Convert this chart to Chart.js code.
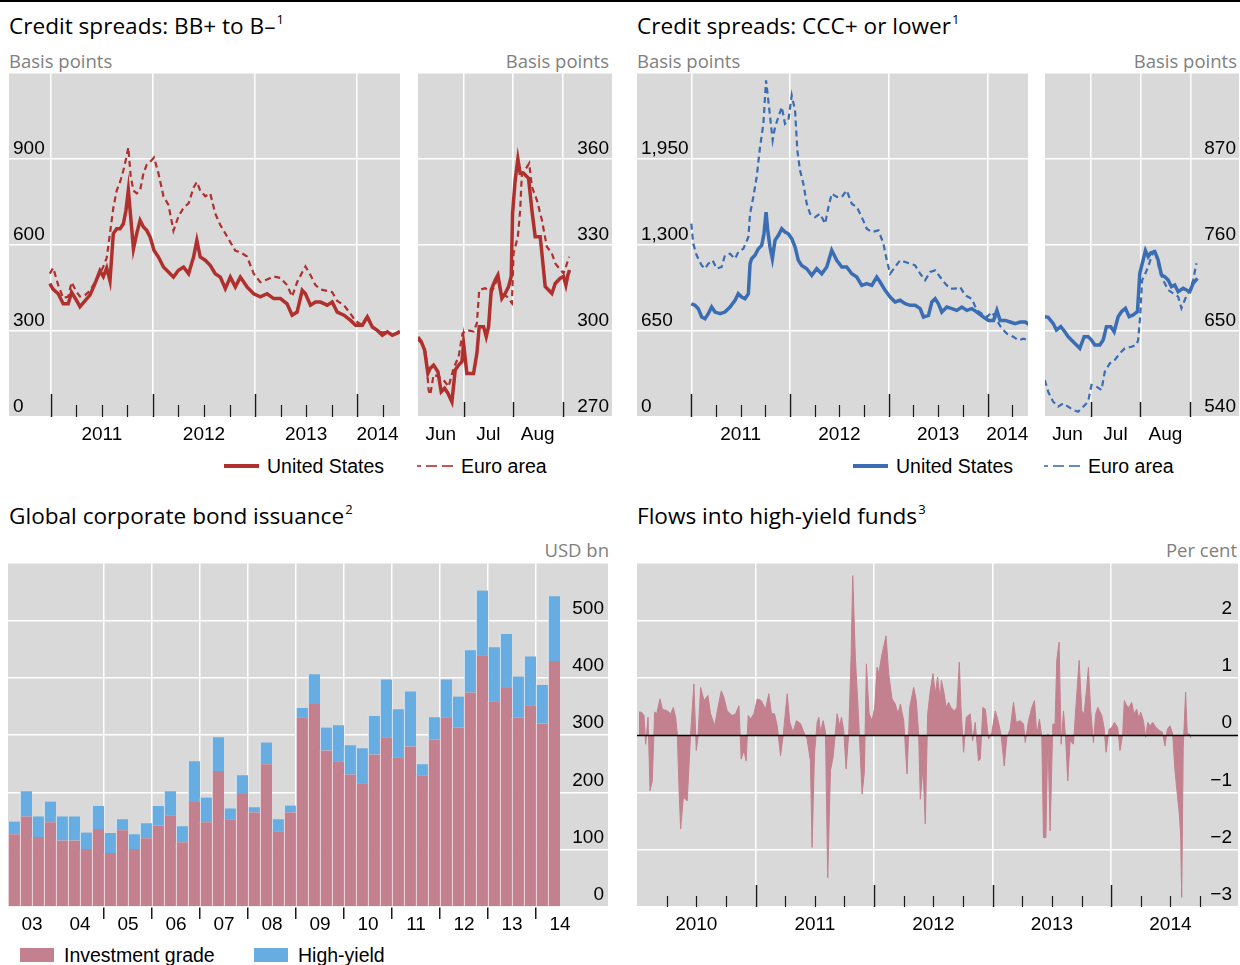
<!DOCTYPE html>
<html>
<head>
<meta charset="utf-8">
<script src="https://cdn.jsdelivr.net/npm/chart.js@4.4.1/dist/chart.umd.min.js"></script>
<style>
  body { margin: 0; width: 1240px; height: 965px; position: relative; background: #fff; overflow: hidden;
         font-family: "Liberation Sans", Arial, sans-serif; }
  .abs { position: absolute; white-space: nowrap; }
  canvas { position: absolute; }
  .title { font-family: "Open Sans", "Noto Sans", sans-serif; font-size: 22.6px; line-height: 26px; color: #000; }
  .sup { font-size: 13px; position: relative; top: -10px; margin-left: 1px; }
  .unit { font-family: "Open Sans", "Noto Sans", sans-serif; font-size: 18.5px; line-height: 20px; color: #808080; }
  .leg { font-size: 19.5px; line-height: 22px; color: #000; }
</style>
</head>
<body>
<div class="abs" style="left:0;top:0;width:1240px;height:2px;background:#000"></div>

<div class="abs title" style="left:9px;top:13px">Credit spreads: BB+ to B–<span class="sup">1</span></div>
<div class="abs unit" style="left:9px;top:51px">Basis points</div>
<div class="abs unit" style="right:631px;top:51px">Basis points</div>
<canvas id="bbChart" width="391" height="380" style="left:9px;top:73px"></canvas>
<canvas id="bbRecentChart" width="194" height="380" style="left:418px;top:73px"></canvas>

<div class="abs title" style="left:637px;top:13px">Credit spreads: CCC+ or lower<span class="sup">1</span></div>
<div class="abs unit" style="left:637px;top:51px">Basis points</div>
<div class="abs unit" style="right:3px;top:51px">Basis points</div>
<canvas id="cccChart" width="391" height="380" style="left:637px;top:73px"></canvas>
<canvas id="cccRecentChart" width="194" height="380" style="left:1045px;top:73px"></canvas>

<div class="abs" style="left:224px;top:464px;width:35px;height:4px;background:#b0302e"></div>
<div class="abs leg" style="left:267px;top:455px">United States</div>
<svg class="abs" style="left:417px;top:463px" width="36" height="6"><g stroke="#b0302e" stroke-width="1.6"><line x1="0" y1="3" x2="4" y2="3"/><line x1="9" y1="3" x2="20" y2="3"/><line x1="25" y1="3" x2="36" y2="3"/></g></svg>
<div class="abs leg" style="left:461px;top:455px">Euro area</div>

<div class="abs" style="left:853px;top:464px;width:35px;height:4px;background:#3a6db3"></div>
<div class="abs leg" style="left:896px;top:455px">United States</div>
<svg class="abs" style="left:1044px;top:463px" width="36" height="6"><g stroke="#3a6db3" stroke-width="1.6"><line x1="0" y1="3" x2="4" y2="3"/><line x1="9" y1="3" x2="20" y2="3"/><line x1="25" y1="3" x2="36" y2="3"/></g></svg>
<div class="abs leg" style="left:1088px;top:455px">Euro area</div>

<div class="abs title" style="left:9px;top:503px">Global corporate bond issuance<span class="sup">2</span></div>
<div class="abs unit" style="right:631px;top:540px">USD bn</div>
<canvas id="issueChart" width="600" height="380" style="left:8px;top:563px"></canvas>
<div class="abs" style="left:20px;top:948px;width:34px;height:14px;background:#c3808f"></div>
<div class="abs leg" style="left:64px;top:944px">Investment grade</div>
<div class="abs" style="left:254px;top:948px;width:34px;height:14px;background:#68ade1"></div>
<div class="abs leg" style="left:298px;top:944px">High-yield</div>

<div class="abs title" style="left:637px;top:503px">Flows into high-yield funds<span class="sup">3</span></div>
<div class="abs unit" style="right:3px;top:540px">Per cent</div>
<canvas id="flowChart" width="601" height="380" style="left:637px;top:563px"></canvas>

<script>
'use strict';

// BB+ to B- spreads, basis points (dates as fractional years)
let bbDates = [2010.990, 2011.023, 2011.072, 2011.121, 2011.170, 2011.203, 2011.246, 2011.285, 2011.334, 2011.383,
  2011.432, 2011.481, 2011.514, 2011.547, 2011.579, 2011.612, 2011.645, 2011.678, 2011.710, 2011.736,
  2011.759, 2011.782, 2011.809, 2011.841, 2011.874, 2011.907, 2011.939, 2011.972, 2012.011, 2012.054,
  2012.103, 2012.152, 2012.201, 2012.250, 2012.300, 2012.349, 2012.398, 2012.430, 2012.463, 2012.512,
  2012.561, 2012.610, 2012.660, 2012.709, 2012.758, 2012.807, 2012.856, 2012.921, 2012.987, 2013.052,
  2013.118, 2013.183, 2013.249, 2013.314, 2013.363, 2013.412, 2013.462, 2013.494, 2013.543, 2013.592,
  2013.642, 2013.707, 2013.756, 2013.805, 2013.871, 2013.936, 2013.985, 2014.051, 2014.100, 2014.149,
  2014.198, 2014.247, 2014.296, 2014.345, 2014.417];
let bbUS = [465, 445, 430, 395, 395, 435, 410, 385, 405, 425,
  465, 510, 490, 520, 475, 640, 657, 657, 674, 721,
  791, 698, 587, 640, 686, 663, 651, 628, 581, 558,
  523, 506, 488, 512, 523, 500, 558, 616, 558, 547,
  529, 500, 488, 448, 488, 454, 488, 454, 430, 419,
  430, 413, 413, 395, 355, 366, 442, 430, 390, 401,
  401, 390, 401, 366, 355, 337, 320, 320, 349, 314,
  302, 285, 297, 285, 297];
let bbEA = [500, 520, 460, 415, 420, 470, 440, 420, 425, 440,
  470, 500, 525, 555, 640, 730, 790, 820, 860, 900,
  940, 840, 790, 780, 790, 850, 880, 890, 905, 850,
  770, 740, 650, 700, 730, 745, 800, 820, 790, 770,
  780, 710, 670, 640, 610, 580, 575, 560, 500, 470,
  480, 490, 485, 460, 420, 470, 505, 525, 495, 460,
  445, 440, 435, 405, 390, 360, 335, 320, 355, 315,
  300, 295, 297, 285, 300];

// recent BB spreads, dates as month numbers (7 = 1 July 2014)
let bbRecentDatesUS = [6.078, 6.145, 6.213, 6.280, 6.327, 6.395, 6.482, 6.549, 6.617, 6.684,
  6.765, 6.832, 6.900, 6.967, 7.001, 7.068, 7.203, 7.270, 7.317, 7.405,
  7.459, 7.506, 7.560, 7.640, 7.694, 7.775, 7.842, 7.910, 7.964, 7.991,
  8.044, 8.098, 8.145, 8.213, 8.314, 8.381, 8.448, 8.549, 8.597, 8.650,
  8.718, 8.785, 8.853, 8.954, 9.021, 9.068, 9.108, 9.142];
let bbRecentUS = [297.9, 296.3, 293.4, 285.2, 287.0, 288.1, 285.8, 278.8, 280.0, 278.3,
  275.3, 286.4, 288.1, 289.3, 295.7, 285.2, 285.2, 292.2, 301.5, 301.5,
  298.0, 301.5, 314.3, 317.8, 319.5, 311.4, 313.1, 315.5, 319.0, 341.0,
  352.7, 360.0, 355.0, 355.0, 353.3, 342.2, 332.9, 332.9, 324.8, 315.5,
  314.3, 313.1, 316.6, 318.4, 319.0, 316.0, 319.5, 321.3];
let bbRecentDatesEA = [6.078, 6.159, 6.240, 6.294, 6.327, 6.395, 6.496, 6.597, 6.698, 6.799,
  6.900, 6.980, 7.068, 7.203, 7.270, 7.317, 7.438, 7.573, 7.674, 7.775,
  7.876, 7.977, 8.011, 8.098, 8.145, 8.179, 8.246, 8.327, 8.381, 8.482,
  8.583, 8.684, 8.785, 8.853, 8.933, 9.021, 9.068, 9.135];
let bbRecentEA = [296.9, 295.7, 292.2, 279.4, 277.7, 284.7, 284.1, 282.9, 280.6, 287.0,
  291.0, 299.2, 300.3, 299.8, 302.7, 314.3, 314.9, 313.7, 317.8, 313.1,
  312.0, 309.7, 327.1, 332.9, 342.2, 355.0, 356.2, 358.5, 350.3, 345.7,
  338.7, 329.4, 327.1, 323.6, 321.9, 320.1, 322.4, 325.9];

// CCC+ or lower spreads
let cccDatesUS = [2011.000, 2011.037, 2011.071, 2011.105, 2011.139, 2011.172, 2011.206, 2011.240, 2011.291, 2011.341,
  2011.392, 2011.443, 2011.476, 2011.510, 2011.544, 2011.578, 2011.595, 2011.611, 2011.645, 2011.679,
  2011.713, 2011.736, 2011.757, 2011.774, 2011.797, 2011.821, 2011.848, 2011.882, 2011.916, 2011.949,
  2011.983, 2012.017, 2012.051, 2012.084, 2012.118, 2012.169, 2012.220, 2012.270, 2012.321, 2012.372,
  2012.422, 2012.473, 2012.524, 2012.574, 2012.625, 2012.676, 2012.726, 2012.777, 2012.828, 2012.878,
  2012.912, 2012.963, 2013.014, 2013.064, 2013.115, 2013.166, 2013.216, 2013.267, 2013.318, 2013.351,
  2013.402, 2013.436, 2013.470, 2013.503, 2013.537, 2013.588, 2013.639, 2013.689, 2013.740, 2013.791,
  2013.841, 2013.892, 2013.959, 2014.010, 2014.061, 2014.095, 2014.128, 2014.179, 2014.230, 2014.280,
  2014.331, 2014.382, 2014.416];
let cccUS = [856, 844, 819, 756, 743, 781, 831, 793, 781, 793,
  831, 882, 932, 907, 894, 932, 1159, 1196, 1222, 1272,
  1297, 1385, 1549, 1411, 1285, 1196, 1335, 1373, 1423, 1398,
  1385, 1348, 1285, 1184, 1146, 1121, 1071, 1121, 1083, 1134,
  1260, 1184, 1134, 1134, 1083, 1058, 995, 1008, 995, 1058,
  1020, 957, 907, 869, 882, 856, 844, 844, 819, 756,
  768, 869, 894, 856, 793, 831, 819, 806, 831, 806,
  819, 793, 756, 730, 730, 806, 730, 730, 718, 705,
  718, 718, 700];
let cccDatesEA = [2011.000, 2011.020, 2011.054, 2011.105, 2011.139, 2011.172, 2011.216, 2011.257, 2011.307, 2011.341,
  2011.392, 2011.443, 2011.476, 2011.527, 2011.578, 2011.595, 2011.628, 2011.662, 2011.696, 2011.730,
  2011.757, 2011.791, 2011.824, 2011.848, 2011.882, 2011.916, 2011.949, 2011.983, 2012.017, 2012.051,
  2012.074, 2012.101, 2012.135, 2012.169, 2012.203, 2012.253, 2012.304, 2012.355, 2012.389, 2012.422,
  2012.473, 2012.524, 2012.574, 2012.625, 2012.676, 2012.726, 2012.777, 2012.828, 2012.895, 2012.946,
  2012.980, 2013.014, 2013.064, 2013.115, 2013.166, 2013.216, 2013.267, 2013.318, 2013.368, 2013.419,
  2013.470, 2013.520, 2013.571, 2013.622, 2013.672, 2013.723, 2013.774, 2013.841, 2013.892, 2013.943,
  2013.993, 2014.044, 2014.095, 2014.145, 2014.196, 2014.264, 2014.314, 2014.365, 2014.416];
let cccEA = [1461, 1310, 1222, 1146, 1121, 1159, 1184, 1121, 1134, 1222,
  1234, 1196, 1247, 1272, 1360, 1536, 1663, 1814, 2040, 2217,
  2544, 2317, 2091, 2191, 2267, 2343, 2217, 2242, 2431, 2317,
  2015, 1864, 1763, 1612, 1536, 1511, 1536, 1461, 1587, 1688,
  1663, 1663, 1713, 1612, 1587, 1511, 1423, 1398, 1411, 1310,
  1184, 1083, 1134, 1184, 1171, 1159, 1146, 1083, 1033, 1096,
  1108, 1058, 1008, 970, 970, 982, 919, 894, 806, 781,
  756, 793, 730, 668, 630, 605, 579, 592, 579];

let cccRecentDatesUS = [6.086, 6.153, 6.253, 6.319, 6.406, 6.486, 6.553, 6.619, 6.719, 6.786,
  6.873, 6.953, 7.019, 7.086, 7.186, 7.253, 7.319, 7.406, 7.473, 7.553,
  7.619, 7.699, 7.773, 7.853, 7.939, 7.986, 8.053, 8.099, 8.153, 8.206,
  8.286, 8.353, 8.419, 8.486, 8.553, 8.619, 8.686, 8.753, 8.853, 8.919,
  8.986, 9.053, 9.139];
let cccRecentUS = [668.3, 667.5, 659.8, 651.3, 655.5, 649.1, 642.8, 638.5, 632.1, 627.8,
  642.8, 642.8, 638.5, 632.1, 632.1, 638.5, 655.5, 655.5, 649.1, 668.3,
  674.7, 679.0, 668.3, 670.5, 674.7, 723.8, 740.8, 752.8, 745.1, 750.2,
  751.5, 740.8, 721.6, 719.5, 715.2, 706.7, 708.8, 700.3, 704.6, 702.4,
  700.3, 711.0, 717.4];
let cccRecentDatesEA = [6.086, 6.153, 6.253, 6.353, 6.453, 6.553, 6.653, 6.753, 6.853, 6.953,
  7.019, 7.119, 7.219, 7.286, 7.386, 7.486, 7.586, 7.686, 7.819, 7.919,
  7.953, 7.993, 8.033, 8.099, 8.166, 8.219, 8.286, 8.366, 8.453, 8.553,
  8.653, 8.753, 8.819, 8.899, 8.986, 9.053, 9.119];
let cccRecentEA = [587.3, 572.4, 559.6, 553.2, 557.5, 553.2, 548.9, 546.8, 553.2, 559.6,
  580.9, 578.8, 574.5, 598.0, 608.6, 612.9, 621.4, 627.8, 629.9, 632.1,
  638.5, 668.3, 715.2, 723.8, 734.4, 745.1, 754.5, 732.3, 715.2, 702.4,
  698.2, 693.9, 679.0, 691.8, 702.4, 715.2, 736.6];

// quarterly issuance, USD bn, 2003 Q1 to 2014 Q2
let issueYears = ['2003', '2004', '2005', '2006', '2007', '2008', '2009', '2010', '2011', '2012', '2013', '2014', '2015'];
let issueQtrs = ['Q1', 'Q2', 'Q3', 'Q4'];
let issueIG = [127, 158, 122, 148, 116, 116, 101, 136, 94, 134, 101, 120,
  142, 160, 113, 183, 148, 237, 153, 197, 165, 249, 132, 165,
  331, 354, 273, 254, 231, 216, 266, 296, 261, 280, 230, 292,
  331, 313, 374, 439, 359, 382, 330, 352, 320, 429];
let issueHY = [22, 44, 36, 36, 42, 42, 29, 40, 35, 19, 26, 26,
  34, 42, 28, 71, 43, 59, 19, 33, 9, 38, 21, 12,
  16, 52, 40, 63, 51, 61, 67, 101, 84, 96, 19, 39,
  66, 54, 74, 113, 94, 94, 72, 85, 67, 113];

// weekly flows into high-yield funds, per cent
let flowDates = [2010.017, 2010.037, 2010.059, 2010.073, 2010.093, 2010.110, 2010.129, 2010.149, 2010.166, 2010.194,
  2010.214, 2010.256, 2010.284, 2010.306, 2010.326, 2010.340, 2010.354, 2010.368, 2010.391, 2010.410,
  2010.424, 2010.452, 2010.480, 2010.500, 2010.514, 2010.537, 2010.565, 2010.598, 2010.621, 2010.655,
  2010.683, 2010.711, 2010.733, 2010.761, 2010.803, 2010.832, 2010.860, 2010.879, 2010.902, 2010.921,
  2010.938, 2010.958, 2010.986, 2011.014, 2011.048, 2011.084, 2011.112, 2011.135, 2011.160, 2011.183,
  2011.211, 2011.233, 2011.267, 2011.289, 2011.317, 2011.345, 2011.379, 2011.407, 2011.435, 2011.463,
  2011.477, 2011.497, 2011.520, 2011.534, 2011.548, 2011.570, 2011.590, 2011.609, 2011.632, 2011.654,
  2011.674, 2011.688, 2011.710, 2011.725, 2011.744, 2011.764, 2011.786, 2011.806, 2011.820, 2011.842,
  2011.871, 2011.899, 2011.918, 2011.935, 2011.958, 2011.983, 2012.005, 2012.025, 2012.039, 2012.067,
  2012.101, 2012.123, 2012.151, 2012.179, 2012.202, 2012.222, 2012.250, 2012.278, 2012.300, 2012.334,
  2012.356, 2012.376, 2012.390, 2012.413, 2012.432, 2012.452, 2012.474, 2012.497, 2012.516, 2012.536,
  2012.559, 2012.567, 2012.587, 2012.609, 2012.629, 2012.648, 2012.677, 2012.699, 2012.719, 2012.733,
  2012.755, 2012.778, 2012.811, 2012.831, 2012.853, 2012.881, 2012.896, 2012.918, 2012.938, 2012.966,
  2012.994, 2013.022, 2013.050, 2013.072, 2013.098, 2013.120, 2013.148, 2013.176, 2013.199, 2013.233,
  2013.261, 2013.275, 2013.303, 2013.331, 2013.353, 2013.373, 2013.395, 2013.415, 2013.429, 2013.449,
  2013.466, 2013.485, 2013.508, 2013.527, 2013.541, 2013.561, 2013.578, 2013.598, 2013.617, 2013.634,
  2013.654, 2013.682, 2013.710, 2013.730, 2013.752, 2013.772, 2013.794, 2013.808, 2013.828, 2013.850,
  2013.870, 2013.887, 2013.921, 2013.940, 2013.957, 2013.982, 2014.005, 2014.027, 2014.055, 2014.075,
  2014.097, 2014.111, 2014.131, 2014.151, 2014.173, 2014.193, 2014.215, 2014.235, 2014.249, 2014.272,
  2014.291, 2014.308, 2014.328, 2014.350, 2014.378, 2014.406, 2014.432, 2014.454, 2014.474, 2014.496,
  2014.519, 2014.538, 2014.558, 2014.575, 2014.586, 2014.595, 2014.608, 2014.628, 2014.642, 2014.659,
  2014.673];
let flowValues = [0.40, 0.40, 0.34, -0.16, 0.31, -0.97, -0.80, 0.40, 0.37, 0.63,
  0.45, 0.42, 0.37, 0.48, 0.31, 0.02, -0.91, -1.64, -1.09, -1.12,
  -1.15, 0.02, 0.89, -0.27, -0.04, 0.83, 0.60, 0.69, 0.37, 0.16,
  0.48, 0.77, 0.66, 0.42, 0.34, 0.37, 0.51, -0.42, -0.27, -0.45,
  0.34, 0.28, 0.37, 0.63, 0.60, 0.45, 0.72, 0.37, 0.37, 0.16,
  -0.36, -0.01, 0.72, 0.22, 0.05, 0.25, 0.20, 0.05, -0.07, -0.45,
  -1.96, -0.33, 0.22, 0.31, 0.05, 0.25, 0.05, -2.49, -0.62, -0.39,
  0.05, 0.37, 0.16, 0.31, 0.08, -0.59, 0.02, 1.36, 2.78, 1.36,
  0.22, -1.03, -0.65, 1.24, 0.37, 0.25, 0.48, 1.18, 1.07, 1.41,
  1.73, 1.07, 0.63, 0.54, 0.37, 0.54, 0.25, -0.68, 0.48, 0.83,
  0.60, 0.02, -1.12, -0.56, -1.55, 0.37, 0.77, 1.07, 0.72, 1.01,
  0.60, 0.95, 0.77, 0.48, 0.57, 0.48, 0.42, 0.48, 1.27, 0.48,
  -0.30, 0.31, 0.37, -0.10, 0.22, -0.45, -0.42, 0.48, 0.45, -0.07,
  0.05, 0.42, 0.22, -0.01, -0.54, -0.04, 0.10, 0.57, 0.22, 0.25,
  0.19, -0.13, 0.25, 0.48, 0.60, -0.01, 0.28, -0.04, -1.79, -1.79,
  0.02, -1.67, 0.19, 0.19, 1.30, 1.62, -0.16, 0.42, -0.10, -0.80,
  -0.10, -0.16, 0.72, 1.30, 0.42, 0.37, 0.83, 1.18, 0.42, -0.13,
  0.37, 0.48, 0.34, 0.13, -0.30, 0.10, 0.13, 0.22, 0.13, -0.27,
  0.02, 0.60, 0.51, 0.48, 0.57, 0.37, 0.45, 0.28, 0.40, 0.25,
  -0.04, 0.22, 0.16, 0.22, 0.13, 0.08, 0.05, -0.19, 0.10, 0.16,
  0.02, -0.62, -1.03, -1.38, -1.73, -2.83, -0.22, 0.75, 0.02, 0.02,
  -0.05];

let monthNames = { 6: 'Jun', 7: 'Jul', 8: 'Aug' };

let red = '#b0302e';
let blue = '#3a6db3';
let pink = '#c3808f';
let lightBlue = '#68ade1';
let clear = 'rgba(0,0,0,0)';

Chart.defaults.font.family = '"Liberation Sans", Arial, sans-serif';
Chart.defaults.font.size = 19;
Chart.defaults.color = '#000';

// grey plot background
const plotBg = {
  id: 'plotBg',
  beforeDraw(chart) {
    let a = chart.chartArea;
    let ctx = chart.ctx;
    ctx.save();
    ctx.fillStyle = '#d9d9d9';
    ctx.fillRect(a.left, a.top, a.right - a.left, a.bottom - a.top);
    ctx.restore();
  }
};

// small tick marks standing up from the bottom of the plot, plus a zero line
const innerTicks = {
  id: 'innerTicks',
  afterDatasetsDraw(chart, args, opts) {
    let ctx = chart.ctx;
    let a = chart.chartArea;
    ctx.save();
    if (opts.zeroLine) {
      let py = Math.round(chart.scales.y.getPixelForValue(0)) + 0.5;
      ctx.strokeStyle = '#000';
      ctx.lineWidth = 1.5;
      ctx.beginPath();
      ctx.moveTo(a.left, py);
      ctx.lineTo(a.right, py);
      ctx.stroke();
    }
    if (opts.major) {
      let sx = chart.scales.x;
      ctx.strokeStyle = '#1a1a1a';
      let draw = (list, len, w) => {
        ctx.lineWidth = w;
        list.forEach(v => {
          let px = Math.round(sx.getPixelForValue(v)) + 0.5;
          ctx.beginPath();
          ctx.moveTo(px, a.bottom);
          ctx.lineTo(px, a.bottom - len);
          ctx.stroke();
        });
      };
      draw(opts.major, opts.majorLen, 1.5);
      draw(opts.minor || [], opts.minorLen || 0, 1.2);
    }
    ctx.restore();
  }
};
Chart.register(plotBg, innerTicks);

function pts(xs, ys) {
  return xs.map((x, i) => ({ x: x, y: ys[i] }));
}

function fmt(v) {
  return v.toLocaleString('en-US');
}

// keep the plot filling the canvas: no extra padding from the scales
function noPad(sc) {
  sc.paddingTop = 0;
  sc.paddingBottom = 0;
  sc.paddingLeft = 0;
  sc.paddingRight = 0;
}
let fitX = sc => { sc.height = 36; noPad(sc); };
let fitY = sc => { sc.width = 0; noPad(sc); };

function spreadChart(id, cfg) {
  new Chart(document.getElementById(id), {
    type: 'line',
    data: {
      datasets: cfg.series.map(s => ({
        data: s.data,
        borderColor: s.color,
        borderWidth: s.dash ? 2.2 : 3.5,
        borderDash: s.dash ? [6, 4] : [],
        pointRadius: 0,
        tension: 0,
        fill: false
      }))
    },
    options: {
      responsive: false,
      animation: false,
      devicePixelRatio: 1,
      layout: { padding: 0, autoPadding: false },
      plugins: { legend: { display: false }, tooltip: { enabled: false }, innerTicks: cfg.ticks },
      scales: {
        x: {
          type: 'linear',
          bounds: 'data',
          min: cfg.xMin,
          max: cfg.xMax,
          afterBuildTicks: sc => { sc.ticks = cfg.xTicks.map(v => ({ value: v })); },
          afterFit: fitX,
          grid: {
            color: c => (c.tick && Number.isInteger(c.tick.value)) ? '#fff' : clear,
            lineWidth: 1.5,
            drawTicks: false
          },
          border: { display: false },
          ticks: { callback: cfg.xLabel, padding: 6, maxRotation: 0, autoSkip: false }
        },
        y: {
          type: 'linear',
          position: cfg.yPos,
          min: cfg.yMin,
          max: cfg.yMax,
          afterFit: fitY,
          grid: { color: '#fff', lineWidth: 1.5, drawTicks: false },
          border: { display: false },
          ticks: {
            stepSize: cfg.yStep,
            mirror: true,
            padding: cfg.yPad,
            labelOffset: -10,
            callback: v => v >= cfg.yMax ? '' : fmt(v)
          }
        }
      }
    }
  });
}

let yearLabel = v => Number.isInteger(v) ? '' : String(Math.floor(v));
let monthLabel = v => Number.isInteger(v) ? '' : monthNames[Math.floor(v)];
let yearTicks = {
  major: [2011, 2012, 2013, 2014], majorLen: 23,
  minor: [2011.25, 2011.5, 2011.75, 2012.25, 2012.5, 2012.75, 2013.25, 2013.5, 2013.75, 2014.25], minorLen: 12
};
let monthTicks = { major: [7, 8, 9], majorLen: 15 };

spreadChart('bbChart', {
  series: [{ data: pts(bbDates, bbUS), color: red }, { data: pts(bbDates, bbEA), color: red, dash: true }],
  xMin: 2010.59, xMax: 2014.42,
  xTicks: [2011, 2011.5, 2012, 2012.5, 2013, 2013.5, 2014, 2014.2],
  xLabel: yearLabel,
  yPos: 'left', yMin: 0, yMax: 1200, yStep: 300, yPad: 4,
  ticks: yearTicks
});

spreadChart('bbRecentChart', {
  series: [{ data: pts(bbRecentDatesUS, bbRecentUS), color: red }, { data: pts(bbRecentDatesEA, bbRecentEA), color: red, dash: true }],
  xMin: 6.08, xMax: 10.0,
  xTicks: [6.54, 7, 7.5, 8, 8.5, 9],
  xLabel: monthLabel,
  yPos: 'right', yMin: 270, yMax: 390, yStep: 30, yPad: -3,
  ticks: monthTicks
});

spreadChart('cccChart', {
  series: [{ data: pts(cccDatesUS, cccUS), color: blue }, { data: pts(cccDatesEA, cccEA), color: blue, dash: true }],
  xMin: 2010.45, xMax: 2014.41,
  xTicks: [2011, 2011.5, 2012, 2012.5, 2013, 2013.5, 2014, 2014.2],
  xLabel: yearLabel,
  yPos: 'left', yMin: 0, yMax: 2600, yStep: 650, yPad: 4,
  ticks: yearTicks
});

spreadChart('cccRecentChart', {
  series: [{ data: pts(cccRecentDatesUS, cccRecentUS), color: blue }, { data: pts(cccRecentDatesEA, cccRecentEA), color: blue, dash: true }],
  xMin: 6.09, xMax: 9.97,
  xTicks: [6.54, 7, 7.5, 8, 8.5, 9],
  xLabel: monthLabel,
  yPos: 'right', yMin: 540, yMax: 980, yStep: 110, yPad: -3,
  ticks: monthTicks
});

// issuance bars
let issueQuarters = [];
issueYears.forEach(y => issueQtrs.forEach(q => issueQuarters.push(y + ' ' + q)));
issueQuarters = issueQuarters.slice(0, 50);
let yearEdge = c => c.index !== undefined && c.index % 4 === 0 && c.index >= 8 && c.index <= 44;

new Chart(document.getElementById('issueChart'), {
  type: 'bar',
  data: {
    labels: issueQuarters,
    datasets: [
      { label: 'Investment grade', data: issueIG, backgroundColor: pink },
      { label: 'High-yield', data: issueHY, backgroundColor: lightBlue }
    ]
  },
  options: {
    responsive: false,
    animation: false,
    devicePixelRatio: 1,
    layout: { padding: 0, autoPadding: false },
    datasets: {
      bar: {
        barPercentage: 1, categoryPercentage: 1,
        borderColor: 'rgba(255,255,255,0.8)',
        borderWidth: { left: 1, right: 0, top: 0, bottom: 0 },
        borderSkipped: false
      }
    },
    plugins: { legend: { display: false }, tooltip: { enabled: false } },
    scales: {
      x: {
        stacked: true,
        afterFit: fitX,
        grid: {
          offset: true,
          color: c => yearEdge(c) ? '#fff' : clear,
          tickColor: c => yearEdge(c) ? '#1a1a1a' : clear,
          tickLength: 12,
          lineWidth: 1.5,
          tickWidth: 1.5
        },
        border: { display: false },
        ticks: {
          autoSkip: false, maxRotation: 0, labelOffset: -6, padding: -6,
          callback: (v, i) => (i % 4 === 2 && i < 47) ? issueQuarters[i].slice(2, 4) : ''
        }
      },
      y: {
        stacked: true,
        position: 'right',
        min: 0, max: 600,
        afterFit: fitY,
        grid: { color: '#fff', lineWidth: 1.5, drawTicks: false },
        border: { display: false },
        ticks: { stepSize: 100, mirror: true, padding: -4, labelOffset: -12, callback: v => v >= 600 ? '' : fmt(v) }
      }
    }
  }
});

// fund flows area
new Chart(document.getElementById('flowChart'), {
  type: 'line',
  data: {
    datasets: [{
      data: pts(flowDates, flowValues),
      borderColor: pink,
      borderWidth: 1,
      backgroundColor: pink,
      fill: 'origin',
      pointRadius: 0,
      tension: 0
    }]
  },
  options: {
    responsive: false,
    animation: false,
    devicePixelRatio: 1,
    layout: { padding: 0, autoPadding: false },
    plugins: {
      legend: { display: false }, tooltip: { enabled: false },
      innerTicks: {
        zeroLine: true,
        major: [2011, 2012, 2013, 2014], majorLen: 22,
        minor: [2010.25, 2010.5, 2010.75, 2011.25, 2011.5, 2011.75, 2012.25, 2012.5, 2012.75,
          2013.25, 2013.5, 2013.75, 2014.25, 2014.5, 2014.75], minorLen: 11
      }
    },
    scales: {
      x: {
        type: 'linear',
        bounds: 'data',
        min: 2010, max: 2015.07,
        afterBuildTicks: sc => {
          sc.ticks = [2010.5, 2011, 2011.5, 2012, 2012.5, 2013, 2013.5, 2014, 2014.5].map(v => ({ value: v }));
        },
        afterFit: fitX,
        grid: { color: c => (c.tick && Number.isInteger(c.tick.value)) ? '#fff' : clear, lineWidth: 1.5, drawTicks: false },
        border: { display: false },
        ticks: { callback: yearLabel, padding: 6, maxRotation: 0, autoSkip: false }
      },
      y: {
        position: 'right',
        min: -3, max: 3,
        afterFit: fitY,
        grid: { color: c => (c.tick && c.tick.value === 0) ? clear : '#fff', lineWidth: 1.5, drawTicks: false },
        border: { display: false },
        ticks: {
          stepSize: 1, mirror: true, padding: -6, labelOffset: -12,
          callback: v => v >= 3 ? '' : (v < 0 ? '\u2212' + Math.abs(v) : String(v))
        }
      }
    }
  }
});
</script>
</body>
</html>
